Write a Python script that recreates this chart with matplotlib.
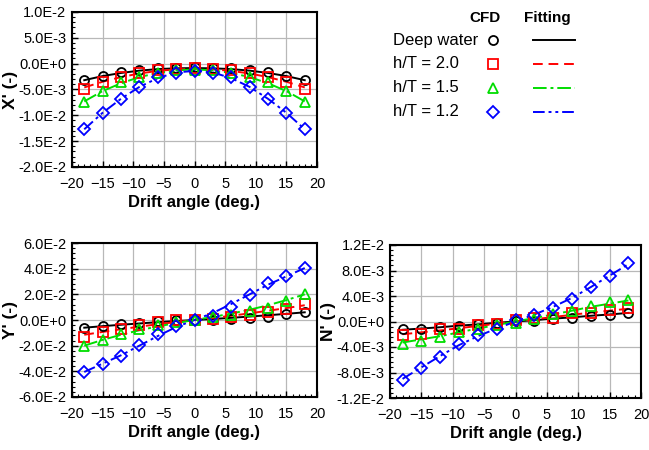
import numpy as np
import matplotlib
matplotlib.use("Agg")
import matplotlib.pyplot as plt
from matplotlib.ticker import AutoMinorLocator

plt.rcParams['font.family'] = ['Liberation Sans', 'DejaVu Sans']

# drift angle (deg.)
beta = [-18, -15, -12, -9, -6, -3, 0, 3, 6, 9, 12, 15, 18]

cases = ["Deep water", "h/T = 2.0", "h/T = 1.5", "h/T = 1.2"]

# X' CFD points
x_cfd_deep = [-3.2e-3, -2.3e-3, -1.7e-3, -1.15e-3, -0.9e-3, -0.8e-3, -0.65e-3,
              -0.8e-3, -0.9e-3, -1.15e-3, -1.7e-3, -2.3e-3, -3.2e-3]
x_cfd_20 = [-4.9e-3, -3.6e-3, -2.6e-3, -1.8e-3, -1.15e-3, -1.0e-3, -0.85e-3,
            -1.0e-3, -1.15e-3, -1.8e-3, -2.6e-3, -3.6e-3, -4.9e-3]
x_cfd_15 = [-7.4e-3, -5.2e-3, -3.6e-3, -2.6e-3, -1.8e-3, -1.3e-3, -1.2e-3,
            -1.3e-3, -1.8e-3, -2.6e-3, -3.6e-3, -5.2e-3, -7.4e-3]
x_cfd_12 = [-12.7e-3, -9.6e-3, -6.8e-3, -4.5e-3, -2.6e-3, -1.8e-3, -1.5e-3,
            -1.8e-3, -2.6e-3, -4.5e-3, -6.8e-3, -9.6e-3, -12.7e-3]
# X' fitted curves
x_fit_deep = [-3.2e-3, -2.4e-3, -1.8e-3, -1.35e-3, -1.05e-3, -0.9e-3, -0.85e-3,
              -0.9e-3, -1.05e-3, -1.35e-3, -1.8e-3, -2.4e-3, -3.2e-3]
x_fit_20 = [-4.6e-3, -3.5e-3, -2.6e-3, -1.9e-3, -1.4e-3, -1.1e-3, -1.0e-3,
            -1.1e-3, -1.4e-3, -1.9e-3, -2.6e-3, -3.5e-3, -4.6e-3]
x_fit_15 = [-7.3e-3, -5.3e-3, -3.8e-3, -2.6e-3, -1.8e-3, -1.3e-3, -1.1e-3,
            -1.3e-3, -1.8e-3, -2.6e-3, -3.8e-3, -5.3e-3, -7.3e-3]
x_fit_12 = [-12.7e-3, -9.5e-3, -6.8e-3, -4.5e-3, -2.8e-3, -1.7e-3, -1.4e-3,
            -1.7e-3, -2.8e-3, -4.5e-3, -6.8e-3, -9.5e-3, -12.7e-3]

# Y' CFD points
y_cfd_deep = [-6.0e-3, -4.4e-3, -3.0e-3, -2.0e-3, -1.0e-3, 0.0, 0.0,
              0.0, 0.5e-3, 1.3e-3, 2.6e-3, 4.7e-3, 6.5e-3]
y_cfd_20 = [-13.0e-3, -9.4e-3, -7.0e-3, -4.0e-3, -1.3e-3, 0.0, 0.0,
            0.5e-3, 2.0e-3, 4.0e-3, 6.0e-3, 8.6e-3, 12.5e-3]
y_cfd_15 = [-20.5e-3, -15.6e-3, -11.0e-3, -7.3e-3, -4.0e-3, -1.3e-3, 0.0,
            2.0e-3, 3.6e-3, 6.8e-3, 9.6e-3, 14.8e-3, 20.3e-3]
y_cfd_12 = [-40.3e-3, -34.5e-3, -28.0e-3, -19.5e-3, -11.0e-3, -4.4e-3, 0.0,
            3.0e-3, 10.4e-3, 19.5e-3, 28.6e-3, 34.5e-3, 40.3e-3]
# Y' fitted curves
y_fit_deep = [-6.0e-3, -4.8e-3, -3.7e-3, -2.7e-3, -1.7e-3, -0.8e-3, 0.0,
              0.8e-3, 1.7e-3, 2.7e-3, 3.7e-3, 4.8e-3, 6.0e-3]
y_fit_20 = [-11.5e-3, -9.3e-3, -7.2e-3, -5.2e-3, -3.3e-3, -1.6e-3, 0.0,
            1.6e-3, 3.3e-3, 5.2e-3, 7.2e-3, 9.3e-3, 11.5e-3]
y_fit_15 = [-20.0e-3, -15.5e-3, -11.5e-3, -8.0e-3, -5.0e-3, -2.4e-3, 0.0,
            2.4e-3, 5.0e-3, 8.0e-3, 11.5e-3, 15.5e-3, 20.0e-3]
y_fit_12 = [-40.5e-3, -34.0e-3, -27.5e-3, -20.0e-3, -12.5e-3, -5.5e-3, 0.0,
            5.5e-3, 12.5e-3, 20.0e-3, 27.5e-3, 34.0e-3, 40.5e-3]

# N' CFD points
n_cfd_deep = [-1.25e-3, -1.1e-3, -0.94e-3, -0.7e-3, -0.47e-3, -0.16e-3, 0.1e-3,
              0.1e-3, 0.4e-3, 0.5e-3, 0.8e-3, 1.0e-3, 1.35e-3]
n_cfd_20 = [-2.1e-3, -1.9e-3, -1.25e-3, -1.1e-3, -0.5e-3, -0.4e-3, 0.2e-3,
            0.5e-3, 0.5e-3, 1.3e-3, 1.4e-3, 1.8e-3, 2.1e-3]
n_cfd_15 = [-3.5e-3, -3.0e-3, -2.5e-3, -1.7e-3, -1.1e-3, -0.6e-3, -0.2e-3,
            0.4e-3, 1.1e-3, 1.7e-3, 2.4e-3, 3.0e-3, 3.4e-3]
n_cfd_12 = [-9.1e-3, -7.3e-3, -5.5e-3, -3.5e-3, -2.1e-3, -1.2e-3, 0.2e-3,
            1.0e-3, 2.1e-3, 3.6e-3, 5.4e-3, 7.2e-3, 9.1e-3]
# N' fitted curves
n_fit_deep = [-1.3e-3, -1.1e-3, -0.9e-3, -0.65e-3, -0.45e-3, -0.2e-3, 0.0,
              0.2e-3, 0.45e-3, 0.65e-3, 0.9e-3, 1.1e-3, 1.35e-3]
n_fit_20 = [-2.0e-3, -1.7e-3, -1.4e-3, -1.05e-3, -0.7e-3, -0.35e-3, 0.0,
            0.35e-3, 0.7e-3, 1.05e-3, 1.4e-3, 1.7e-3, 2.0e-3]
n_fit_15 = [-3.3e-3, -2.8e-3, -2.3e-3, -1.7e-3, -1.1e-3, -0.55e-3, 0.0,
            0.55e-3, 1.1e-3, 1.7e-3, 2.3e-3, 2.8e-3, 3.3e-3]
n_fit_12 = [-9.0e-3, -7.2e-3, -5.4e-3, -3.7e-3, -2.3e-3, -1.1e-3, 0.0,
            1.1e-3, 2.3e-3, 3.7e-3, 5.4e-3, 7.2e-3, 9.0e-3]

colors = ['black', '#ff0000', '#00dd00', '#0000ff']
markers = ['o', 's', '^', 'D']
msizes = [6.5, 6.5, 7, 6]
linestyles = ['-', (0, (5, 3)), (0, (7, 2, 1.5, 2)), (0, (6, 2, 1.5, 2, 1.5, 2))]

panels = [
    dict(cfd=[x_cfd_deep, x_cfd_20, x_cfd_15, x_cfd_12],
         fit=[x_fit_deep, x_fit_20, x_fit_15, x_fit_12],
         ylabel="X' (-)",
         yticks=[1.0e-2, 5.0e-3, 0.0, -5.0e-3, -1.0e-2, -1.5e-2, -2.0e-2],
         yticklabels=['1.0E-2', '5.0E-3', '0.0E+0', '-5.0E-3', '-1.0E-2', '-1.5E-2', '-2.0E-2'],
         rect=[72 / 649, 1 - 167 / 450, 245 / 649, 155 / 450]),
    dict(cfd=[y_cfd_deep, y_cfd_20, y_cfd_15, y_cfd_12],
         fit=[y_fit_deep, y_fit_20, y_fit_15, y_fit_12],
         ylabel="Y' (-)",
         yticks=[6.0e-2, 4.0e-2, 2.0e-2, 0.0, -2.0e-2, -4.0e-2, -6.0e-2],
         yticklabels=['6.0E-2', '4.0E-2', '2.0E-2', '0.0E+0', '-2.0E-2', '-4.0E-2', '-6.0E-2'],
         rect=[72 / 649, 1 - 397 / 450, 245 / 649, 154 / 450]),
    dict(cfd=[n_cfd_deep, n_cfd_20, n_cfd_15, n_cfd_12],
         fit=[n_fit_deep, n_fit_20, n_fit_15, n_fit_12],
         ylabel="N' (-)",
         yticks=[1.2e-2, 8.0e-3, 4.0e-3, 0.0, -4.0e-3, -8.0e-3, -1.2e-2],
         yticklabels=['1.2E-2', '8.0E-3', '4.0E-3', '0.0E+0', '-4.0E-3', '-8.0E-3', '-1.2E-2'],
         rect=[390 / 649, 1 - 398 / 450, 251 / 649, 153 / 450]),
]

fig = plt.figure(figsize=(6.49, 4.5), dpi=100)

for p in panels:
    ax = fig.add_axes(p['rect'])
    for i in range(4):
        ax.plot(beta, p['fit'][i], color=colors[i], linestyle=linestyles[i], lw=1.4, zorder=2)
        ax.plot(beta, p['cfd'][i], linestyle='none', marker=markers[i], ms=msizes[i],
                mfc='none', mec=colors[i], mew=1.3, zorder=3)
    ax.set_xlim(-20, 20)
    ax.set_xticks(np.arange(-20, 21, 5))
    ax.set_ylim(min(p['yticks']), max(p['yticks']))
    ax.set_yticks(p['yticks'])
    ax.set_yticklabels(p['yticklabels'])
    ax.xaxis.set_minor_locator(AutoMinorLocator(5))
    ax.yaxis.set_minor_locator(AutoMinorLocator(5))
    ax.grid(True, which='major', color='#b8b8b8', lw=0.9)
    ax.set_axisbelow(True)
    ax.tick_params(which='major', direction='in', labelsize=10.5, length=4, width=1)
    ax.tick_params(which='minor', direction='in', length=2, width=0.8)
    ax.tick_params(axis='x', which='major', pad=7)
    ax.tick_params(axis='y', which='major', pad=4)
    for s in ax.spines.values():
        s.set_linewidth(1.5)
    ax.set_xlabel('Drift angle (deg.)', fontsize=12, fontweight='bold', labelpad=3)
    ax.set_ylabel(p['ylabel'], fontsize=12.5, fontweight='bold', labelpad=0)

# legend block (CFD markers / fitting lines)
lax = fig.add_axes([380 / 649, 1 - 125 / 450, 269 / 649, 125 / 450])
lax.set_xlim(0, 269)
lax.set_ylim(125, 0)
lax.axis('off')
lax.text(105, 18, 'CFD', ha='center', va='center', fontsize=11, fontweight='bold')
lax.text(167, 18, 'Fitting', ha='center', va='center', fontsize=11, fontweight='bold')
for i, name in enumerate(cases):
    yy = 40 + i * 24
    lax.text(13, yy, name, ha='left', va='center', fontsize=12)
    lax.plot([113], [yy], linestyle='none', marker=markers[i], ms=msizes[i],
             mfc='none', mec=colors[i], mew=1.3)
    lax.plot([153, 195], [yy, yy], color=colors[i], linestyle=linestyles[i], lw=1.4)

fig.savefig('out.png', dpi=100)
